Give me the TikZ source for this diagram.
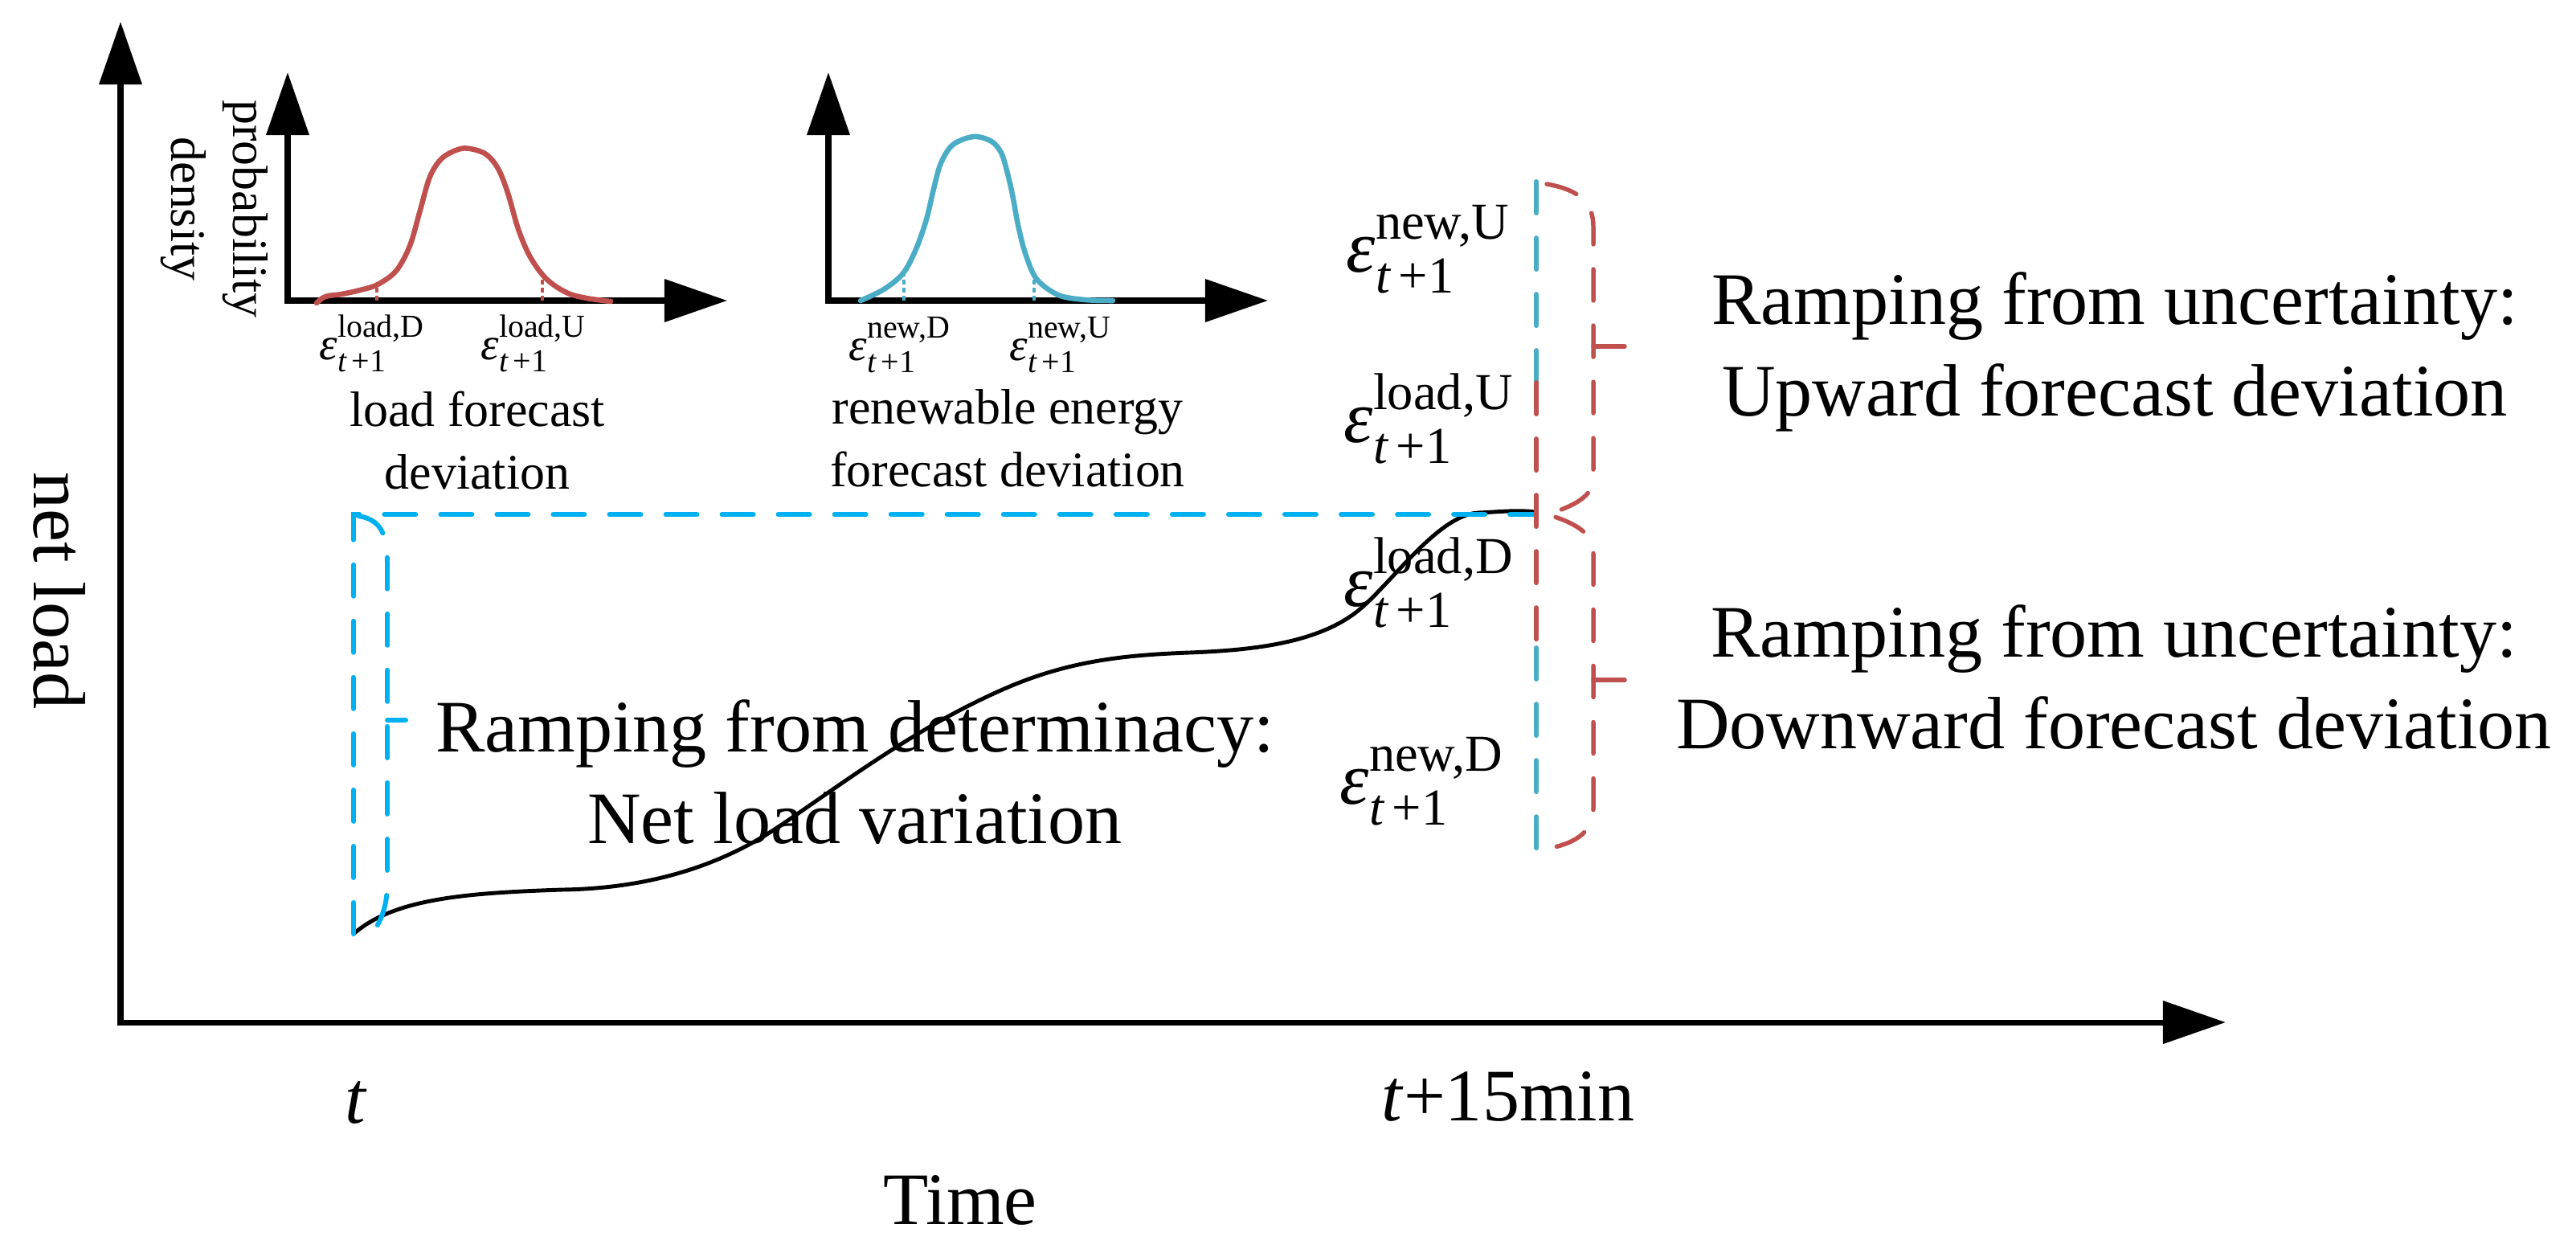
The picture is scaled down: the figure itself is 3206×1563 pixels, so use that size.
\documentclass[tikz,border=0pt]{standalone}
\usepackage{amsmath}
\usepackage{fontspec}
\setmainfont{Liberation Serif}
\usetikzlibrary{arrows.meta}
\definecolor{lred}{HTML}{C0504D}
\definecolor{laqua}{HTML}{4BACC6}
\definecolor{lblue}{HTML}{00B0F0}
\newcommand{\epsv}[1]{$\text{\itshape ε}^{\text{#1}}_{\text{\itshape t}\text{\,+1}}$}
\tikzset{
  tri/.tip={Triangle[length=0.78cm,width=0.52cm]},
  axisline/.style={line width=2pt, line join=miter, tri-tri},
  bigtext/.style={font=\fontsize{26.2pt}{32.2pt}\selectfont, inner sep=0pt, align=center},
  midtext/.style={font=\fontsize{17.6pt}{21.9pt}\selectfont, inner sep=0pt, align=center},
  epsS/.style={font=\fontsize{16.2pt}{19pt}\selectfont, inner sep=0pt, anchor=base west},
  epsL/.style={font=\fontsize{26.2pt}{32pt}\selectfont, inner sep=0pt, anchor=base west},
  longdash/.style={line width=1.7pt, line cap=round, dash pattern=on 0.39cm off 0.31cm},
  bracedash/.style={line width=1.55pt, line cap=round, dash pattern=on 0.39cm off 0.31cm},
  markdash/.style={line width=1.1pt, dash pattern=on 0.06cm off 0.04cm},
  pdfcurve/.style={line width=1.85pt, line cap=round, smooth, tension=0.55},
}
\begin{document}
\begin{tikzpicture}[x=0.01cm,y=-0.01cm]
\useasboundingbox (0,0) rectangle (3206,1563);

% main axes
\coordinate (O) at (150,1272);
\coordinate (Ytip) at (150,27);
\coordinate (Xtip) at (2770,1272);
\draw[axisline] (Ytip) -- (O) -- (Xtip);

% inset axes
\coordinate (O1) at (358,374);
\coordinate (Y1) at (358,90);
\coordinate (X1) at (905,374);
\draw[axisline] (Y1) -- (O1) -- (X1);
\coordinate (O2) at (1031,374);
\coordinate (Y2) at (1031,90);
\coordinate (X2) at (1578,374);
\draw[axisline] (Y2) -- (O2) -- (X2);

% inset curves
\draw[lred, pdfcurve] plot coordinates {(394,377) (405,369) (425,366) (448,361) (470,354) (493,337) (510,306) (522,265) (535,220) (550,197) (570,186) (585,185) (605,192) (620,210) (632,240) (645,285) (660,320) (680,347) (705,364) (730,371) (760,375)};
\draw[laqua, pdfcurve] plot coordinates {(1071,374) (1100,360) (1124,340) (1140,310) (1153,273) (1162,235) (1171,203) (1186,180) (1212,170) (1234,176) (1246,190) (1253,212) (1260,242) (1267,280) (1276,315) (1290,347) (1317,367) (1350,373) (1385,374)};

% inset markers
\draw[lred, markdash] (469,374) -- (469,355);
\draw[lred, markdash] (675,374) -- (675,338);
\draw[laqua, markdash] (1125,374) -- (1125,342);
\draw[laqua, markdash] (1287,374) -- (1287,344);

% inset labels
\node[epsS] (eLD) at (397,447) {\epsv{load,D}};
\node[epsS] (eLU) at (598,447) {\epsv{load,U}};
\node[epsS] (eND) at (1056,448) {\epsv{new,D}};
\node[epsS] (eNU) at (1256,448) {\epsv{new,U}};
\node[midtext, anchor=base] (lfd) at (594,608) {load forecast\\deviation};
\node[midtext, anchor=base] (rfd) at (1254,605) {renewable energy\\forecast deviation};
\node[midtext, anchor=base, rotate=-90] (pd) at (213,260) {probability\\density};

% net load curve
\draw[line width=1.4pt] (440,1162) .. controls (490,1118) and (580,1111) .. (700,1107)
  .. controls (830,1105) and (915,1065) .. (970,1028)
  .. controls (1050,974) and (1140,905) .. (1250,857)
  .. controls (1330,822) and (1400,815) .. (1480,812)
  .. controls (1560,809) and (1640,800) .. (1690,760)
  .. controls (1730,728) and (1790,640) .. (1840,638)
  .. controls (1865,637) and (1890,634) .. (1910,637);

% blue dashed rectangle part and bracket
\coordinate (bl) at (440,1162);
\coordinate (tl) at (440,640);
\coordinate (tr) at (1912,640);
\draw[lblue, longdash] (bl) -- (tl) -- (tr);
\draw[lblue, longdash] (446,642) .. controls (472,646) and (482,662) .. (482,700) -- (482,1100) .. controls (482,1130) and (472,1152) .. (460,1164);
\draw[lblue, longdash] (482,896) -- (505,896);

% right vertical dashed line
\coordinate (vtop) at (1912,226);
\coordinate (vr1) at (1912,476);
\coordinate (vr2) at (1912,806);
\coordinate (vbot) at (1912,1056);
\draw[laqua, longdash] (vtop) -- (vr1);
\draw[laqua, longdash] (vr2) -- (vbot);
\draw[lred, longdash] (vr1) -- (vr2);

% red braces
\draw[lred, bracedash] (1925,229) .. controls (1965,236) and (1983,252) .. (1983,282) -- (1983,596) .. controls (1983,616) and (1960,630) .. (1925,640) .. controls (1960,650) and (1983,664) .. (1983,686) -- (1983,1006) .. controls (1983,1032) and (1965,1049) .. (1925,1056);
\draw[lred, bracedash] (1983,431) -- (2042,431);
\draw[lred, bracedash] (1983,846) -- (2042,846);

% right epsilon labels
\node[epsL] (rNU) at (1675,338) {\epsv{new,U}};
\node[epsL] (rLU) at (1672,550) {\epsv{load,U}};
\node[epsL] (rLD) at (1672,754) {\epsv{load,D}};
\node[epsL] (rND) at (1667,1000) {\epsv{new,D}};

% big texts
\node[bigtext, anchor=base] (up) at (2632,517) {Ramping from uncertainty:\\Upward forecast deviation};
\node[bigtext, anchor=base] (down) at (2631,931) {Ramping from uncertainty:\\Downward forecast deviation};
\node[bigtext, anchor=base] (det) at (1064,1049) {Ramping from determinacy:\\Net load variation};

% axis labels
\node[bigtext, anchor=base, rotate=-90] (ylab) at (42,735) {net load};
\node[bigtext, anchor=base] (tlab) at (442,1397) {\itshape t};
\node[bigtext, anchor=base] (t15) at (1877,1394) {\textit{t}+15min};
\node[bigtext, anchor=base] (time) at (1195,1523) {Time};
\end{tikzpicture}
\end{document}
